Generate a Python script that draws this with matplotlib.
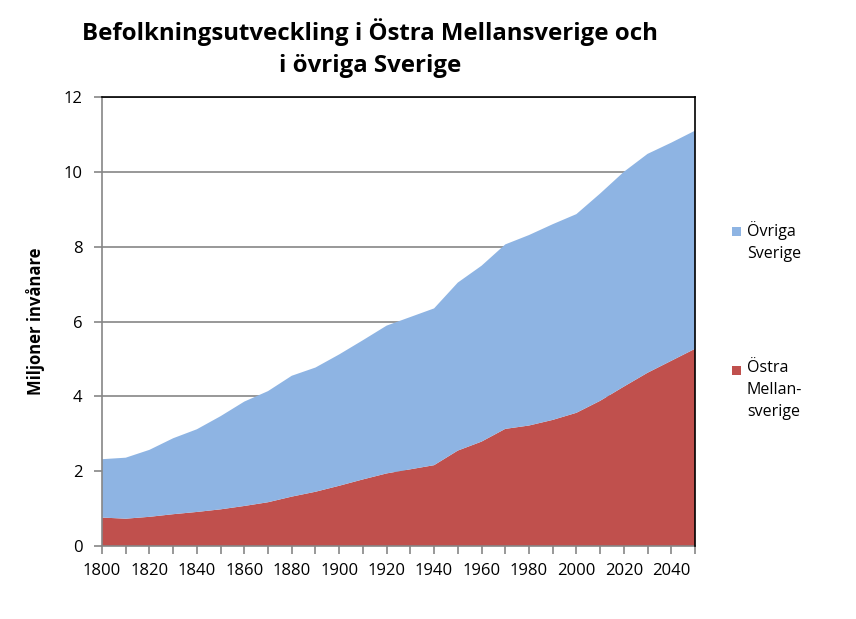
import matplotlib
matplotlib.use("Agg")
import matplotlib.pyplot as plt
import numpy as np
from matplotlib.patches import Rectangle

years = list(range(1800, 2051, 10))
ostra = [0.76, 0.73, 0.78, 0.85, 0.91, 0.98, 1.07, 1.17, 1.32, 1.45, 1.61, 1.78, 1.94,
         2.05, 2.16, 2.55, 2.79, 3.13, 3.22, 3.37, 3.56, 3.88, 4.26, 4.63, 4.95, 5.27]
totalt = [2.32, 2.36, 2.57, 2.88, 3.12, 3.47, 3.86, 4.14, 4.55, 4.77, 5.12, 5.50, 5.89,
          6.12, 6.35, 7.04, 7.49, 8.06, 8.31, 8.60, 8.87, 9.42, 10.00, 10.48, 10.78, 11.10]
ovriga = [t - o for t, o in zip(totalt, ostra)]

series_names = ["Östra\nMellan-\nsverige", "Övriga\nSverige"]
colors = ["#C0504D", "#8EB4E3"]
title = "Befolkningsutveckling i Östra Mellansverige och\ni övriga Sverige"
ylabel = "Miljoner invånare"
xticks_major = list(range(1800, 2041, 20))
yticks = [0, 2, 4, 6, 8, 10, 12]

plt.rcParams['font.family'] = ['Open Sans', 'DejaVu Sans']

fig = plt.figure(figsize=(8.56, 6.19), dpi=100)
W, H = 856, 619
ax = fig.add_axes([102 / W, 1 - 546 / H, (695 - 102) / W, (546 - 97) / H])

ax.stackplot(years, ostra, ovriga, colors=colors, linewidth=0, zorder=2)

ax.set_xlim(1800, 2050)
ax.set_ylim(0, 12)
ax.set_yticks(yticks)
ax.set_xticks(xticks_major)
ax.set_xticks(list(range(1800, 2051, 10)), minor=True)
ax.grid(axis='y', color='#868686', linewidth=1.2, zorder=1)
ax.set_axisbelow(True)

for s in ['left', 'bottom']:
    ax.spines[s].set_color('#868686')
    ax.spines[s].set_linewidth(1.2)
for s in ['top', 'right']:
    ax.spines[s].set_color('black')
    ax.spines[s].set_linewidth(1.2)
    ax.spines[s].set_zorder(5)

ax.tick_params(axis='both', which='both', direction='out', color='#868686', width=1.2)
ax.tick_params(axis='y', length=6, labelsize=12, pad=8)
ax.tick_params(axis='x', which='both', length=6, labelsize=12, pad=6)

ax.set_ylabel(ylabel, fontsize=12, fontweight='bold', labelpad=12)
ax.yaxis.set_label_coords(-(102 - 45) / (695 - 102), 0.5)

fig.text(370 / W, 1 - 48 / H, title, ha='center', va='center', fontsize=17.3,
         fontweight='bold', linespacing=1.45)

# legend
leg_items = [(series_names[1], colors[1], 227), (series_names[0], colors[0], 366)]
for label, col, ytop in leg_items:
    fig.patches.append(Rectangle((732 / W, 1 - (ytop + 9) / H), 9 / W, 9 / H,
                                 transform=fig.transFigure, facecolor=col,
                                 edgecolor='none'))
    fig.text(747 / W, 1 - (ytop - 6) / H, label, ha='left', va='top',
             fontsize=11.5, linespacing=1.5)

fig.savefig("out.png", dpi=100)
